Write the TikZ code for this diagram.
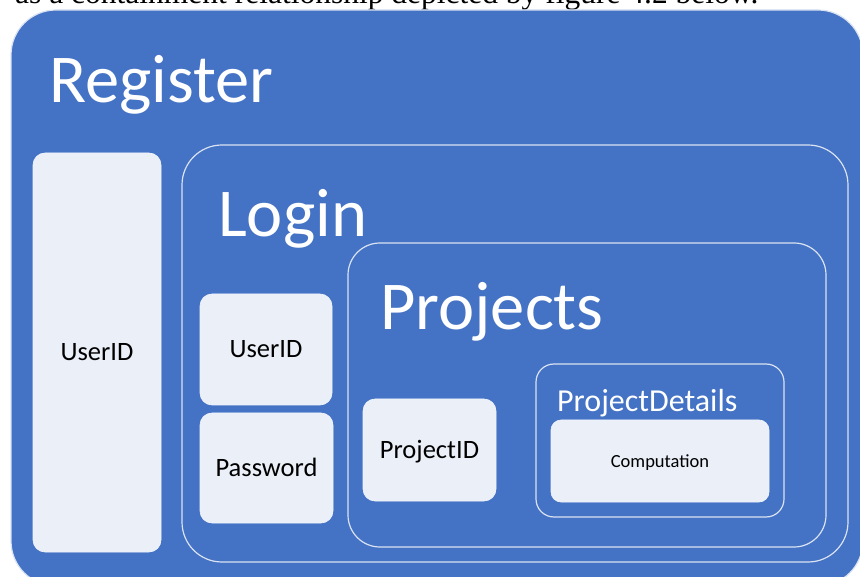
\documentclass[tikz,border=0pt]{standalone}
\usepackage{fontspec}
\setmainfont{Liberation Serif}
\newfontfamily\calibri{Carlito}
\definecolor{accent}{RGB}{68,114,196}
\definecolor{tint}{RGB}{234,239,248}
\definecolor{rim}{RGB}{218,227,243}
\begin{document}
\begin{tikzpicture}[x=1pt,y=-1pt,
  panel/.style={rectangle, draw=rim, line width=1.2pt, inner sep=0pt},
  field/.style={rectangle, fill=tint, draw=tint!60!white, line width=0.6pt,
    rounded corners=12pt, inner sep=0pt, text=black, text depth=0pt},
  fieldtext/.style={font=\calibri\fontsize{26.5}{30}\selectfont, text height=17pt},
  title/.style={anchor=base west, inner sep=0pt, text=white},
  bigtitle/.style={title, font=\calibri\fontsize{68.5}{72}\selectfont}
]
\useasboundingbox (0,0) rectangle (860,577);
\clip (0,0) rectangle (860,577);

% running text line above the figure
\node[anchor=base west, inner sep=0pt, font=\fontsize{31.5}{34}\selectfont] (caption) at (15,3.5)
  {as a containment relationship depicted by figure 4.2 below.};

% nested containers
\node[panel, fill=accent, rounded corners=45pt, minimum width=852pt, minimum height=576pt] (register) at (437,298) {};
\node[panel, rounded corners=40pt, minimum width=666pt, minimum height=417pt] (login) at (515,353.5) {};
\node[panel, rounded corners=32pt, minimum width=478pt, minimum height=304pt] (projects) at (587,395) {};
\node[panel, rounded corners=18pt, minimum width=248pt, minimum height=153pt] (details) at (660,440.5) {};

% container titles
\node[bigtitle] (registerT) at (49,103) {Register};
\node[bigtitle] (loginT) at (218,237) {Login};
\node[bigtitle] (projectsT) at (380,330) {Projects};
\node[title, font=\calibri\fontsize{32}{35}\selectfont] (detailsT) at (557,411) {ProjectDetails};

% fields
\node[field, fieldtext, minimum width=128pt, minimum height=399pt] (regUser) at (97,352.5) {UserID};
\node[field, fieldtext, minimum width=132pt, minimum height=111pt] (logUser) at (266,349.5) {UserID};
\node[field, fieldtext, minimum width=133pt, minimum height=110pt] (logPass) at (266.5,468) {Password};
\node[field, fieldtext, minimum width=133pt, minimum height=102pt] (projID) at (429.5,450) {ProjectID};
\node[field, rounded corners=10pt, font=\calibri\fontsize{18.5}{22}\selectfont, text height=12pt,
  minimum width=218pt, minimum height=82pt] (compute) at (660,461) {Computation};
\end{tikzpicture}
\end{document}
